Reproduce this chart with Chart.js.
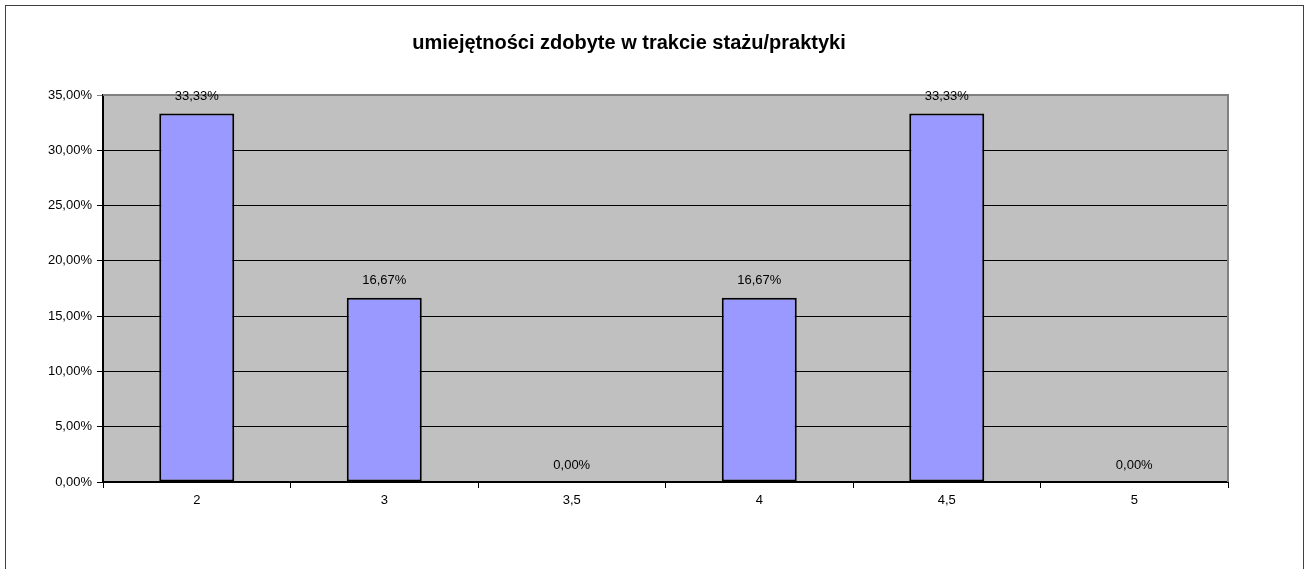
<!DOCTYPE html>
<html>
<head>
<meta charset="utf-8">
<script src="https://cdn.jsdelivr.net/npm/chart.js@4/dist/chart.umd.min.js"></script>
<style>
html,body{margin:0;padding:0;background:#fff;}
#c{display:block;}
</style>
</head>
<body>
<canvas id="c" width="1306" height="569"></canvas>
<script>
const titleText = "umiejętności zdobyte w trakcie stażu/praktyki";
const categories = ["2", "3", "3,5", "4", "4,5", "5"];
const values = [33.33, 16.67, 0, 16.67, 33.33, 0];
const yTicks = [0, 5, 10, 15, 20, 25, 30, 35];

const fmt = v => v.toFixed(2).replace('.', ',') + '%';
const FONT = '"Liberation Sans", Arial, sans-serif';

const decor = {
  id: 'decor',
  beforeDraw(chart) {
    const {ctx, chartArea: a} = chart;
    ctx.save();
    ctx.fillStyle = '#fff';
    ctx.fillRect(0, 0, chart.width, chart.height);
    ctx.strokeStyle = '#404040';
    ctx.lineWidth = 1;
    ctx.strokeRect(5.5, 5.5, 1298, 600);
    ctx.fillStyle = '#C0C0C0';
    ctx.fillRect(a.left, a.top, a.right - a.left, a.bottom - a.top);
    ctx.fillStyle = '#000';
    ctx.font = 'bold 20px ' + FONT;
    ctx.textAlign = 'center';
    ctx.textBaseline = 'alphabetic';
    ctx.fillText(titleText, 629, 48.5);
    ctx.restore();
  },
  afterDatasetsDraw(chart) {
    const {ctx, chartArea: a} = chart;
    ctx.save();
    ctx.strokeStyle = '#808080';
    ctx.lineWidth = 2;
    ctx.beginPath();
    ctx.moveTo(a.left, a.top);
    ctx.lineTo(a.right, a.top);
    ctx.lineTo(a.right, a.bottom);
    ctx.stroke();
    const meta = chart.getDatasetMeta(0);
    ctx.fillStyle = '#000';
    ctx.font = '13px ' + FONT;
    ctx.textAlign = 'center';
    ctx.textBaseline = 'middle';
    meta.data.forEach((bar, i) => {
      ctx.fillText(fmt(values[i]), bar.x, bar.y - 17);
    });
    ctx.restore();
  }
};

new Chart(document.getElementById('c'), {
  type: 'bar',
  data: {
    labels: categories,
    datasets: [{
      data: values,
      backgroundColor: '#9999FF',
      borderColor: '#000',
      borderWidth: ctx => (values[ctx.dataIndex] === 0 ? 0 : 2),
      borderSkipped: false,
      barPercentage: 0.4,
      categoryPercentage: 1.0
    }]
  },
  options: {
    responsive: false,
    animation: false,
    devicePixelRatio: 1,
    layout: { padding: { left: 0, top: 95, right: 78, bottom: 0 } },
    plugins: { legend: { display: false }, title: { display: false }, tooltip: { enabled: false } },
    scales: {
      x: {
        offset: true,
        grid: { offset: true, drawOnChartArea: false, drawTicks: true, tickLength: 6, color: '#000', lineWidth: 1 },
        border: { color: '#000', width: 2 },
        ticks: { color: '#000', font: { family: FONT, size: 13 }, padding: 5, maxRotation: 0 },
        afterFit(s) { s.height = 87; }
      },
      y: {
        min: 0, max: 35,
        afterBuildTicks(s) { s.ticks = yTicks.map(v => ({ value: v })); },
        grid: {
          color: c => (c.tick && c.tick.value === 35 ? '#808080' : '#000'),
          lineWidth: 1, drawTicks: true, tickLength: 6
        },
        border: { color: '#000', width: 2 },
        ticks: { color: '#000', font: { family: FONT, size: 13 }, padding: 5, callback: v => fmt(v) },
        afterFit(s) { s.width = 103; }
      }
    }
  },
  plugins: [decor]
});
</script>
</body>
</html>
